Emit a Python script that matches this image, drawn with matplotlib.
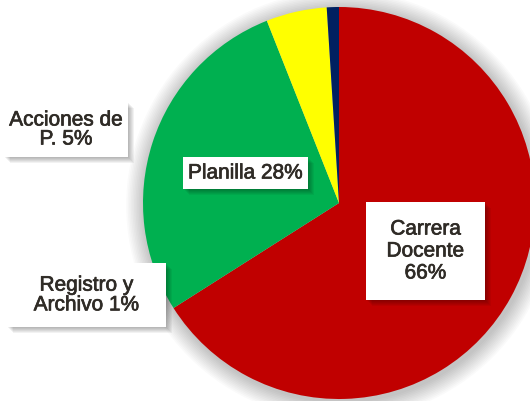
import matplotlib
matplotlib.use("Agg")
import matplotlib.pyplot as plt
import matplotlib.patheffects as pe
from matplotlib.patches import Circle, Rectangle

categories = ["Carrera\nDocente\n66%", "Planilla 28%", "Acciones de\nP. 5%", "Registro y\nArchivo 1%"]
values = [66, 28, 5, 1]
colors = ["#C00000", "#00B050", "#FFFF00", "#002060"]

# label boxes in pixels: (left, top, right, bottom), and line spacing
label_boxes = [(366, 202, 485, 300), (183, 157, 308, 189), (4, 102, 128, 157), (7, 263, 166, 327)]
label_spacing = [1.2, 1.0, 1.0, 1.05]

W, H = 530, 401
fig = plt.figure(figsize=(W / 100, H / 100), dpi=100)
fig.patch.set_facecolor("white")

cx, cy, R = 339, 203, 196
ax = fig.add_axes([(cx - R) / W, (H - cy - R) / H, 2 * R / W, 2 * R / H])
ax.axis("off")

# soft shadow
for i in range(12):
    r = 1.0 + 0.008 * (i + 1)
    ax.add_patch(Circle((0.01, -0.012), r, color="black", alpha=0.02, lw=0, zorder=0, clip_on=False))

wedges, _ = ax.pie(values, colors=colors, startangle=90, counterclock=False,
                   radius=1.0, wedgeprops=dict(linewidth=0))
for w in wedges:
    w.set_clip_on(False)
    w.set_zorder(2)
ax.set_xlim(-1, 1)
ax.set_ylim(-1, 1)
ax.set_aspect("equal")

def rect_px(l, t, r, b, **kw):
    return Rectangle((l / W, 1 - b / H), (r - l) / W, (b - t) / H,
                     transform=fig.transFigure, **kw)

for lab, (l, t, r, b), ls in zip(categories, label_boxes, label_spacing):
    for o in range(1, 7):
        fig.patches.append(rect_px(l + o, t + o, r + o, b + o, fc="black", ec="none",
                                   alpha=0.05, zorder=3))
    fig.patches.append(rect_px(l, t, r, b, fc="white", ec="none", zorder=4))
    fig.text((l + r) / 2 / W, 1 - (t + b) / 2 / H, lab, ha="center", va="center",
             fontsize=15, color="#2f2b26", family="Liberation Sans",
             linespacing=ls, zorder=5,
             path_effects=[pe.withStroke(linewidth=0.5, foreground="#2f2b26")])

fig.savefig("out.png", dpi=100)
